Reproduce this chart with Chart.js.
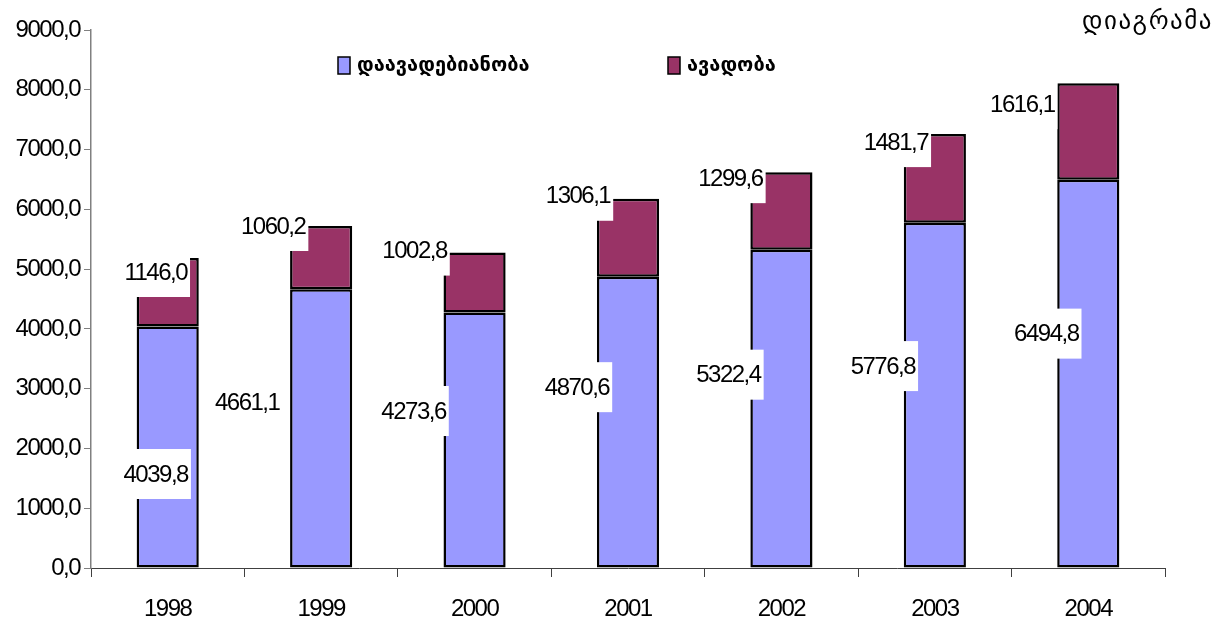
<!DOCTYPE html>
<html>
<head>
<meta charset="utf-8">
<script src="https://cdn.jsdelivr.net/npm/chart.js@4/dist/chart.umd.min.js"></script>
<style>
  html, body { margin: 0; padding: 0; background: #fff; }
  #wrap { width: 1224px; height: 623px; }
</style>
</head>
<body>
<div id="wrap"><canvas id="chartCanvas" width="1224" height="623"></canvas></div>
<script>
// values
const years = ["1998", "1999", "2000", "2001", "2002", "2003", "2004"];
const prevalence = [4039.8, 4661.1, 4273.6, 4870.6, 5322.4, 5776.8, 6494.8];
const incidence = [1146.0, 1060.2, 1002.8, 1306.1, 1299.6, 1481.7, 1616.1];
const seriesNames = ["დაავადებიანობა", "ავადობა"];
const yTickLabels = ["0,0", "1000,0", "2000,0", "3000,0", "4000,0", "5000,0", "6000,0", "7000,0", "8000,0", "9000,0"];
const chartTitle = "დიაგრამა";

// label placement (px) relative to bar centre / segment anchor
const lowerLabelShift = [[-12, 27], [-74, -26], [-61, -29], [-51, -35], [-53, -34], [-52, -29], [-42, -40]];
const upperLabelShift = [[-12, 14], [-48, 0], [-60, -2], [-50, -3], [-51, 6], [-39, 8], [-66, 21]];

const numFont = "24px 'Liberation Sans', Arial, sans-serif";
const fmt = (v) => v.toFixed(1).replace(".", ",");

const tightText = {
    id: "tightText",
    beforeUpdate(chart) { chart.ctx.letterSpacing = "-1.5px"; },
    beforeDraw(chart) { chart.ctx.letterSpacing = "-1.5px"; },
};

const barLabels = {
    id: "barLabels",
    afterDatasetsDraw(chart) {
        const ctx = chart.ctx;
        ctx.save();
        ctx.font = numFont;
        ctx.letterSpacing = "-1.5px";
        ctx.textAlign = "center";
        ctx.textBaseline = "middle";
        chart.data.datasets.forEach((ds, di) => {
            const meta = chart.getDatasetMeta(di);
            meta.data.forEach((bar, i) => {
                const shift = di === 0 ? lowerLabelShift[i] : upperLabelShift[i];
                const anchorY = di === 0 ? (bar.y + bar.base) / 2 : bar.y;
                const x = bar.x + shift[0];
                const y = anchorY + shift[1];
                const txt = fmt(ds.data[i]);
                const w = ctx.measureText(txt).width + 6;
                ctx.fillStyle = "#fff";
                ctx.fillRect(x - w / 2, y - 25, w, 50);
                ctx.fillStyle = "#000";
                ctx.fillText(txt, x, y + 1);
            });
        });
        ctx.restore();
    },
};

const sideTexts = {
    id: "sideTexts",
    afterDraw(chart) {
        const ctx = chart.ctx;
        ctx.save();
        ctx.textBaseline = "middle";
        // legend
        const items = [
            { x: 338, color: "#9999FF", label: seriesNames[0] },
            { x: 668, color: "#993366", label: seriesNames[1] },
        ];
        items.forEach((it) => {
            ctx.fillStyle = it.color;
            ctx.fillRect(it.x, 57, 12, 17);
            ctx.strokeStyle = "#000";
            ctx.lineWidth = 1.5;
            ctx.strokeRect(it.x, 57, 12, 17);
            ctx.fillStyle = "#000";
            ctx.letterSpacing = "0px";
            ctx.font = "bold 20px 'DejaVu Sans', sans-serif";
            ctx.textAlign = "left";
            ctx.fillText(it.label, it.x + 19, 66);
        });
        // title in the corner
        ctx.font = "25px 'DejaVu Sans', sans-serif";
        ctx.letterSpacing = "1.5px";
        ctx.textAlign = "right";
        ctx.fillText(chartTitle, 1213, 22);
        ctx.restore();
    },
};

new Chart(document.getElementById("chartCanvas").getContext("2d"), {
    type: "bar",
    data: {
        labels: years,
        datasets: [
            {
                label: seriesNames[0],
                data: prevalence,
                backgroundColor: "#9999FF",
                borderColor: "#000",
                borderWidth: 2.5,
                borderSkipped: false,
            },
            {
                label: seriesNames[1],
                data: incidence,
                backgroundColor: "#993366",
                borderColor: "#000",
                borderWidth: 2.5,
                borderSkipped: false,
            },
        ],
    },
    options: {
        responsive: false,
        animation: false,
        devicePixelRatio: 1,
        layout: { padding: { left: 0, right: 59, top: 30, bottom: 0 } },
        plugins: {
            legend: { display: false },
            tooltip: { enabled: false },
        },
        datasets: {
            bar: { categoryPercentage: 1.0, barPercentage: 0.405 },
        },
        scales: {
            x: {
                stacked: true,
                grid: {
                    offset: true,
                    drawOnChartArea: false,
                    tickLength: 9,
                    color: "#404040",
                    lineWidth: 1,
                },
                border: { color: "#404040", width: 1 },
                ticks: {
                    color: "#000",
                    font: { family: "'Liberation Sans', Arial, sans-serif", size: 24 },
                    padding: 18,
                    maxRotation: 0,
                },
                afterFit(scale) { scale.height = 55; },
            },
            y: {
                stacked: true,
                min: 0,
                max: 9000,
                grid: {
                    drawOnChartArea: false,
                    tickLength: 7,
                    color: "#808080",
                },
                border: { color: "#808080", width: 1.5 },
                ticks: {
                    stepSize: 1000,
                    color: "#000",
                    font: { family: "'Liberation Sans', Arial, sans-serif", size: 24 },
                    padding: 4,
                    callback: (v) => yTickLabels[Math.round(v / 1000)],
                },
                afterFit(scale) { scale.width = 91; },
            },
        },
    },
    plugins: [tightText, barLabels, sideTexts],
});
</script>
</body>
</html>
